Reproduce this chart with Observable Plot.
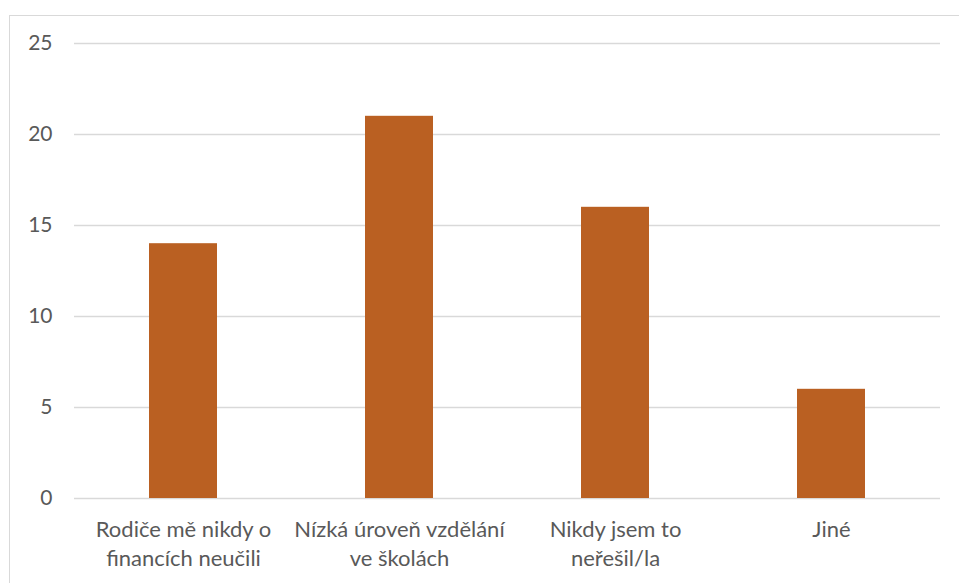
<!DOCTYPE html>
<html>
<head>
<meta charset="utf-8">
<script src="https://cdn.jsdelivr.net/npm/d3@7"></script>
<script src="https://cdn.jsdelivr.net/npm/@observablehq/plot@0.6"></script>
<style>
  html, body { margin: 0; padding: 0; background: #fff; }
  #wrap { position: relative; width: 959px; height: 583px; overflow: hidden; }
  #frame { position: absolute; left: 9px; top: 15px; width: 980px; height: 600px;
           border-left: 1.5px solid #d9d9d9; border-top: 1.5px solid #d9d9d9; pointer-events: none; }
</style>
</head>
<body>
<div id="wrap"><div id="frame"></div></div>
<script>
const categories = [
  "Rodiče mě nikdy o\nfinancích neučili",
  "Nízká úroveň vzdělání\nve školách",
  "Nikdy jsem to\nneřešil/la",
  "Jiné"
];
const values = [14, 21, 16, 6];
const yTicks = [0, 5, 10, 15, 20, 25];

const data = categories.map((c, i) => ({category: c, value: values[i]}));

const chart = Plot.plot({
  width: 959,
  height: 583,
  marginLeft: 74,
  marginRight: 19,
  marginTop: 43,
  marginBottom: 85,
  style: {fontFamily: "Lato, 'Open Sans', sans-serif", fontSize: "22px", color: "#595959", background: "transparent"},
  x: {domain: categories, paddingInner: 0.686, paddingOuter: 0.343, align: 0.5, label: null},
  y: {domain: [0, 25], label: null},
  marks: [
    Plot.ruleY(yTicks, {stroke: "#d9d9d9", strokeWidth: 1.5}),
    Plot.barY(data, {x: "category", y: "value", fill: "#BA6022"}),
    Plot.axisY({ticks: yTicks, tickSize: 0, tickPadding: 22, fontSize: 21, fill: "#595959", label: null}),
    Plot.axisX({tickSize: 0, tickPadding: 18, fontSize: 22, fill: "#595959", lineHeight: 1.32, label: null})
  ]
});
document.getElementById("wrap").prepend(chart);
</script>
</body>
</html>
